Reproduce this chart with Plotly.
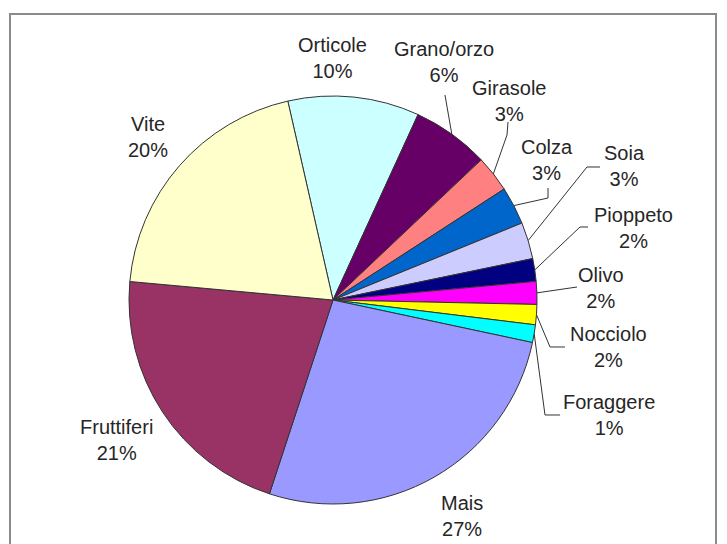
import math
import plotly.graph_objects as go

# ---- data ----
categories = ["Orticole", "Grano/orzo", "Girasole", "Colza", "Soia", "Pioppeto",
              "Olivo", "Nocciolo", "Foraggere", "Mais", "Fruttiferi", "Vite"]
values = [10.4, 6.1, 2.9, 3.0, 2.9, 1.8, 1.8, 1.6, 1.4, 26.7, 21.4, 20.0]

# ---- styles / layout ----
colors = ["#CCFFFF", "#660066", "#FF8080", "#0066CC", "#CCCCFF", "#000080",
          "#FF00FF", "#FFFF00", "#00FFFF", "#9999FF", "#993366", "#FFFFCC"]
W, H = 727, 544
OFF = 8                            # page body margin in pixels
CX, CY, R = 333, 300, 204          # pie centre / radius in window pixels
ROTATION = -12.8                   # start angle (degrees clockwise from 12 o'clock)

# label block centres (window pixels) and leader-line elbow points (from text to pie)
label_pos = {
    "Orticole": (332, 58), "Grano/orzo": (444, 62), "Girasole": (509, 101),
    "Colza": (547, 160), "Soia": (624, 166), "Pioppeto": (633, 228),
    "Olivo": (601, 288), "Nocciolo": (608, 347), "Foraggere": (609, 415),
    "Mais": (462, 516), "Fruttiferi": (116, 440), "Vite": (148, 137),
}
leaders = {
    "Grano/orzo": [(445, 95)],
    "Girasole": [(508, 122), (507, 135)],
    "Colza": [(548, 188), (548, 198)],
    "Soia": [(600, 167), (587, 167)],
    "Pioppeto": [(588, 227), (580, 227)],
    "Olivo": [(577, 287)],
    "Nocciolo": [(565, 347), (550, 347)],
    "Foraggere": [(560, 415), (545, 415)],
}


def px(x):
    return (x - OFF) / W


def py(y):
    return 1 - (y - OFF) / H


fig = go.Figure(go.Pie(
    labels=categories, values=values, sort=False, direction="clockwise",
    rotation=ROTATION, textinfo="none", hoverinfo="label+percent",
    marker=dict(colors=colors, line=dict(color="#333333", width=1)),
    domain=dict(x=[px(CX - R), px(CX + R)], y=[py(CY + R), py(CY - R)]),
    showlegend=False,
))

total = sum(values)
annotations = []
shapes = []
cum = 0.0
for name, v in zip(categories, values):
    mid = ROTATION + (cum + v / 2) / total * 360.0
    cum += v
    lx, ly = label_pos[name]
    pct = round(v / total * 100)
    annotations.append(dict(
        x=px(lx), y=py(ly), xref="paper", yref="paper", showarrow=False,
        text=f"{name}<br>{pct}%", align="center", xanchor="center", yanchor="middle",
        font=dict(family="Liberation Sans, Arial, sans-serif", size=20, color="#262626"),
    ))
    if name in leaders:
        ex = CX + R * math.sin(math.radians(mid))
        ey = CY - R * math.cos(math.radians(mid))
        pts = leaders[name] + [(ex, ey)]
        path = "M " + " L ".join(f"{px(a):.5f},{py(b):.5f}" for a, b in pts)
        shapes.append(dict(type="path", xref="paper", yref="paper", path=path,
                           line=dict(color="#333333", width=1)))

# outer chart frame
shapes.append(dict(type="rect", xref="paper", yref="paper",
                   x0=px(10), x1=px(716), y0=py(560), y1=py(14),
                   line=dict(color="#8a8a8a", width=2), layer="below"))

fig.update_layout(
    width=W, height=H, margin=dict(l=0, r=0, t=0, b=0),
    paper_bgcolor="white", plot_bgcolor="white",
    annotations=annotations, shapes=shapes,
)

fig.write_html("out.html")
